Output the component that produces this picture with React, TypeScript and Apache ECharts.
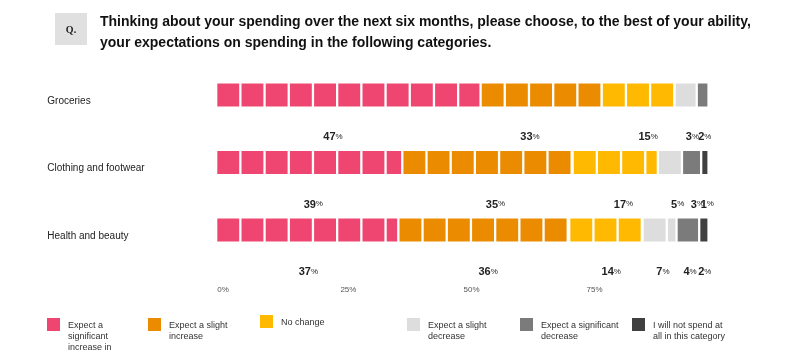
import React, { useEffect, useRef } from "react";
import * as echarts from "echarts";

const categories = ["Groceries", "Clothing and footwear", "Health and beauty"];
const seriesNames = [
  "Expect a significant increase in",
  "Expect a slight increase",
  "No change",
  "Expect a slight decrease",
  "Expect a significant decrease",
  "I will not spend at all in this category",
];
const legendTexts = [
  "Expect a\nsignificant\nincrease in",
  "Expect a slight\nincrease",
  "No change",
  "Expect a slight\ndecrease",
  "Expect a significant\ndecrease",
  "I will not spend at\nall in this category",
];
const colors = ["#EE4670", "#EB8C00", "#FFB900", "#DDDDDD", "#7B7B7B", "#404040"];

// bar segment widths (%) per category, in series order
const groceriesBar = [53.7, 24.6, 14.8, 4.5, 2.4, 0];
const clothingBar = [37.8, 34.6, 17.3, 4.9, 3.9, 1.5];
const healthBar = [37.0, 34.7, 14.9, 6.9, 4.6, 1.9];

// value labels printed under each bar
const groceriesLabels = [47, 33, 15, 3, 2];
const clothingLabels = [39, 35, 17, 5, 3, 1];
const healthLabels = [37, 36, 14, 7, 4, 2];

const xTicks = [0, 25, 50, 75, 100];

const legendLeft = [47, 148, 260, 407, 520, 632];
const legendTop = [297, 308, 315, 308, 308, 308];

export default function App() {
  const ref = useRef<HTMLDivElement>(null);
  useEffect(() => {
    if (!ref.current) return;
    const chart = echarts.init(ref.current, null, { renderer: "svg" });
    const bars = [groceriesBar, clothingBar, healthBar];
    const labels = [groceriesLabels, clothingLabels, healthLabels];

    const UNIT = 24.2;
    const GAP = 2.3;
    const H = 23;

    const barSeries = seriesNames.map((name, si) => {
      const data: number[][] = [];
      bars.forEach((arr, ci) => {
        const start = arr.slice(0, si).reduce((a, b) => a + b, 0);
        if (arr[si] > 0) data.push([ci, start, start + arr[si]]);
      });
      return {
        type: "custom",
        name,
        itemStyle: { color: colors[si] },
        encode: { x: [1, 2], y: 0 },
        data,
        renderItem: (params: any, api: any) => {
          const cat = api.value(0);
          const p0 = api.coord([api.value(1), cat]);
          const p1 = api.coord([api.value(2), cat]);
          const end = p1[0] - GAP;
          const children: any[] = [];
          for (let x = p0[0]; x < end - 0.2; x += UNIT) {
            const w = Math.min(UNIT - GAP, end - x);
            children.push({
              type: "rect",
              shape: { x, y: p0[1] - H / 2, width: w, height: H },
              style: { fill: colors[si] },
            });
          }
          return { type: "group", children };
        },
      };
    });

    const labelData: number[][] = [];
    labels.forEach((arr, ci) => {
      let acc = 0;
      arr.forEach((v) => {
        labelData.push([ci, acc + v / 2, v]);
        acc += v;
      });
    });

    const labelSeries = {
      type: "custom",
      name: "labels",
      encode: { x: 1, y: 0 },
      data: labelData,
      renderItem: (params: any, api: any) => {
        const p = api.coord([api.value(1), api.value(0)]);
        return {
          type: "text",
          x: p[0],
          y: p[1] + 41,
          style: {
            text: `{a|${api.value(2)}}{b|%}`,
            align: "center",
            verticalAlign: "middle",
            rich: {
              a: { fontSize: 11, fontWeight: "bold", fill: "#222", fontFamily: "Liberation Sans" },
              b: { fontSize: 8, fill: "#222", fontFamily: "Liberation Sans" },
            },
          },
        };
      },
    };

    // leading blank lines keep the first text line level with the legend icon
    const legendFormatted = legendTexts.map((t) => {
      const n = t.split("\n").length;
      const lead = n === 3 ? "\n\n" : n === 2 ? "\n" : "";
      return lead + t;
    });

    chart.setOption({
      animation: false,
      title: {
        text: "Thinking about your spending over the next six months, please choose, to the best of your ability,\nyour expectations on spending in the following categories.",
        left: 100,
        top: 10,
        padding: 0,
        textStyle: {
          fontSize: 14,
          fontWeight: "bold",
          color: "#111",
          lineHeight: 21,
          fontFamily: "Liberation Sans",
        },
      },
      graphic: [
        { type: "rect", left: 55, top: 13, shape: { width: 32, height: 32 }, style: { fill: "#E0E0E0" } },
        {
          type: "text",
          x: 71,
          y: 29,
          style: {
            text: "Q.",
            fontSize: 10,
            fontWeight: "bold",
            fontFamily: "Liberation Serif",
            fill: "#222",
            align: "center",
            verticalAlign: "middle",
          },
        },
      ],
      legend: seriesNames.map((n, i) => ({
        data: [n],
        left: legendLeft[i],
        top: legendTop[i],
        icon: "rect",
        itemWidth: 13,
        itemHeight: 13,
        padding: 0,
        selectedMode: false,
        formatter: () => legendFormatted[i],
        textStyle: {
          fontSize: 9,
          color: "#333",
          lineHeight: 11,
          fontFamily: "Liberation Sans",
          padding: [0, 0, 0, 3],
        },
      })),
      grid: { left: 217.3, right: 84.3, top: 61.25, bottom: 94.25 },
      xAxis: {
        type: "value",
        min: xTicks[0],
        max: xTicks[xTicks.length - 1],
        interval: 25,
        axisLine: { show: false },
        axisTick: { show: false },
        splitLine: { show: false },
        axisLabel: {
          formatter: (v: number) => (v === 100 ? "" : `${v}%`),
          align: "left",
          margin: 22,
          fontSize: 8,
          color: "#555",
          fontFamily: "Liberation Sans",
        },
      },
      yAxis: {
        type: "category",
        data: categories,
        inverse: true,
        axisLine: { show: false },
        axisTick: { show: false },
        axisLabel: {
          align: "left",
          verticalAlign: "top",
          lineHeight: 10,
          margin: 170,
          fontSize: 10,
          color: "#222",
          fontFamily: "Liberation Sans",
        },
      },
      series: [...barSeries, labelSeries],
    });
    return () => chart.dispose();
  }, []);
  return <div ref={ref} style={{ position: "fixed", left: 0, top: 0, width: 794, height: 358 }} />;
}
